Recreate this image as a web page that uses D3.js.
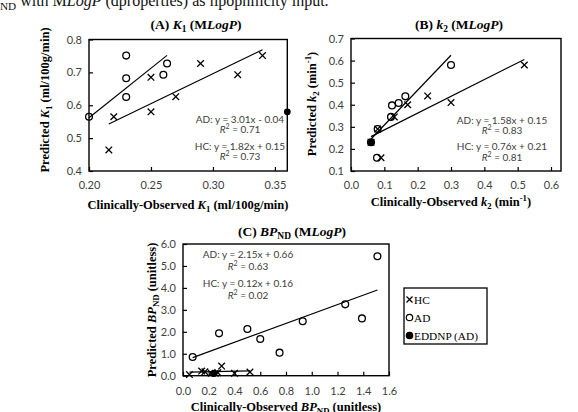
<!DOCTYPE html>
<html lang="en">
<meta charset="utf-8">
<head>
    <script src='https://d3js.org/d3.v7.min.js'></script>
    <style>
        body { margin: 0; background: #fff; }
        svg { display: block; }
    </style>
</head>
<body>
<script>
// ---- data ----
// (A) K1
const k1HcObs  = [0.216, 0.22, 0.25, 0.25, 0.27, 0.29, 0.32, 0.34];
const k1HcPred = [0.464, 0.565, 0.685, 0.58, 0.626, 0.727, 0.693, 0.751];
const k1AdObs  = [0.20, 0.23, 0.23, 0.23, 0.26, 0.263];
const k1AdPred = [0.565, 0.751, 0.682, 0.625, 0.693, 0.727];
const k1EdObs  = [0.36];
const k1EdPred = [0.58];
const k1Fits   = [[3.01, -0.04], [1.82, 0.15]];   // AD, HC
const k1Eqs    = ["AD: y = 3.01x - 0.04", "0.71", "HC: y = 1.82x + 0.15", "0.73"];

// (B) k2
const k2HcObs  = [0.06, 0.08, 0.09, 0.13, 0.17, 0.23, 0.30, 0.52];
const k2HcPred = [0.23, 0.29, 0.16, 0.345, 0.40, 0.44, 0.41, 0.58];
const k2AdObs  = [0.06, 0.08, 0.078, 0.12, 0.123, 0.143, 0.163, 0.30];
const k2AdPred = [0.23, 0.29, 0.16, 0.345, 0.397, 0.408, 0.438, 0.58];
const k2EdObs  = [0.06];
const k2EdPred = [0.23];
const k2Fits   = [[1.58, 0.15], [0.76, 0.21]];
const k2Eqs    = ["AD: y = 1.58x + 0.15", "0.83", "HC: y = 0.76x + 0.21", "0.81"];

// (C) BPND
const bpHcObs  = [0.05, 0.145, 0.17, 0.22, 0.25, 0.27, 0.30, 0.40, 0.52];
const bpHcPred = [0.05, 0.21, 0.18, 0.11, 0.11, 0.14, 0.44, 0.11, 0.17];
const bpAdObs  = [0.075, 0.28, 0.50, 0.60, 0.75, 0.93, 1.26, 1.39, 1.51];
const bpAdPred = [0.85, 1.93, 2.13, 1.67, 1.05, 2.48, 3.25, 2.61, 5.44];
const bpEdObs  = [0.24];
const bpEdPred = [0.10];
const bpFits   = [[2.15, 0.66], [0.12, 0.16]];
const bpEqs    = ["AD: y = 2.15x + 0.66", "0.63", "HC: y = 0.12x + 0.16", "0.02"];

const legendLabels = ["HC", "AD", "EDDNP (AD)"];

// ---- page ----
const svg = d3.select("body").append("svg")
    .attr("width", 578)
    .attr("height", 412);
svg.append("rect").attr("width", 578).attr("height", 412).attr("fill", "#fff");

const serif = "'Liberation Serif', 'Times New Roman', serif";
const sans = "Lato, 'Open Sans', sans-serif";

// write text made of pieces: [text, style] with style "i", "sub", "sup"
function rich(sel, parts, size) {
    let shift = 0;
    parts.forEach(function(p) {
        const t = sel.append("tspan").text(p[0]);
        let target = 0;
        if (p[1] === "i") t.attr("font-style", "italic");
        if (p[1] === "sub") { target = size * 0.25; t.attr("font-size", size * 0.7); }
        if (p[1] === "sup") { target = -size * 0.38; t.attr("font-size", size * 0.7); }
        if (target !== shift) { t.attr("dy", target - shift); shift = target; }
    });
}

// cut-off caption line at the very top
const cap = svg.append("text").attr("x", 0).attr("y", 6)
    .attr("font-family", serif).attr("font-size", 16).attr("fill", "#111");
rich(cap, [["ND", "sub"], [" with M"], ["LogP", "i"], [" (dproperties) as lipophilicity input."]], 16);

function cross(g, x, y, s) {
    g.append("path")
        .attr("d", `M${x - s},${y - s}L${x + s},${y + s}M${x - s},${y + s}L${x + s},${y - s}`)
        .attr("stroke", "#000").attr("stroke-width", 1.3).attr("fill", "none");
}

function drawPanel(p) {
    const g = svg.append("g");
    const x = d3.scaleLinear().domain(p.xDomain).range(p.xRange);
    const y = d3.scaleLinear().domain(p.yDomain).range(p.yRange);

    // axes with inward ticks
    g.append("g")
        .attr("transform", `translate(0,${p.yRange[0]})`)
        .call(d3.axisBottom(x).tickValues(p.xTicks).tickFormat(d3.format(p.xFmt))
            .tickSizeInner(-4).tickSizeOuter(0).tickPadding(p.xPad))
        .call(a => a.select(".domain").remove())
        .call(a => a.selectAll("line").attr("stroke", "#000").attr("stroke-width", 1.2))
        .call(a => a.selectAll("text").attr("font-family", sans).attr("font-size", 11).attr("fill", "#404040"));
    g.append("g")
        .attr("transform", `translate(${p.xRange[0]},0)`)
        .call(d3.axisLeft(y).tickValues(p.yTicks).tickFormat(d3.format(p.yFmt))
            .tickSizeInner(-4).tickSizeOuter(0).tickPadding(p.yPad))
        .call(a => a.select(".domain").remove())
        .call(a => a.selectAll("line").attr("stroke", "#000").attr("stroke-width", 1.2))
        .call(a => a.selectAll("text").attr("font-family", sans).attr("font-size", 11).attr("fill", "#404040"));

    g.append("rect")
        .attr("x", p.xRange[0]).attr("y", p.yRange[1])
        .attr("width", p.xRange[1] - p.xRange[0])
        .attr("height", p.yRange[0] - p.yRange[1])
        .attr("fill", "none").attr("stroke", "#000").attr("stroke-width", 1.4);

    // fitted lines over each group's observed range
    [[p.adObs, p.fits[0]], [p.hcObs, p.fits[1]]].forEach(function(f) {
        const ext = d3.extent(f[0]);
        g.append("path")
            .datum(ext)
            .attr("fill", "none").attr("stroke", "#000").attr("stroke-width", 1.2)
            .attr("d", d3.line().x(d => x(d)).y(d => y(f[1][0] * d + f[1][1])));
    });

    // markers
    p.hcObs.forEach((v, i) => cross(g, x(v), y(p.hcPred[i]), 3.3));
    p.adObs.forEach(function(v, i) {
        g.append("circle").attr("cx", x(v)).attr("cy", y(p.adPred[i])).attr("r", 3.4)
            .attr("fill", "none").attr("stroke", "#000").attr("stroke-width", 1.3);
    });
    p.edObs.forEach(function(v, i) {
        g.append("circle").attr("cx", x(v)).attr("cy", y(p.edPred[i])).attr("r", 3.4)
            .attr("fill", "#000");
    });

    // equations
    const eq = g.append("g").attr("font-family", sans).attr("font-size", 10)
        .attr("fill", "#404040").attr("text-anchor", "middle");
    p.eqs.forEach(function(s, i) {
        const t = eq.append("text").attr("x", p.eqX).attr("y", p.eqY[i]);
        if (i % 2 === 1) rich(t, [["R", "i"], ["2", "sup"], [" = " + s]], 10);
        else t.text(s);
    });

    // title and axis labels
    const tt = g.append("text").attr("x", p.titlePos[0]).attr("y", p.titlePos[1])
        .attr("text-anchor", "middle").attr("font-family", serif)
        .attr("font-weight", "bold").attr("font-size", 13.5);
    rich(tt, p.title, 13.5);
    const xl = g.append("text").attr("x", p.xLabelPos[0]).attr("y", p.xLabelPos[1])
        .attr("text-anchor", "middle").attr("font-family", serif)
        .attr("font-weight", "bold").attr("font-size", 12.5);
    rich(xl, p.xLabel, 12.5);
    const yl = g.append("text")
        .attr("transform", `translate(${p.yLabelPos[0]},${p.yLabelPos[1]}) rotate(-90)`)
        .attr("text-anchor", "middle").attr("font-family", serif)
        .attr("font-weight", "bold").attr("font-size", 12.5);
    rich(yl, p.yLabel, 12.5);
}

drawPanel({
    xDomain: [0.20, 0.36], xRange: [89, 287.3],
    yDomain: [0.4, 0.8], yRange: [171, 39.5],
    xTicks: [0.20, 0.25, 0.30, 0.35], yTicks: [0.4, 0.5, 0.6, 0.7, 0.8],
    xFmt: ".2f", yFmt: ".1f", xPad: 10, yPad: 7,
    hcObs: k1HcObs, hcPred: k1HcPred, adObs: k1AdObs, adPred: k1AdPred,
    edObs: k1EdObs, edPred: k1EdPred, fits: k1Fits,
    eqs: k1Eqs, eqX: 240, eqY: [123, 133, 149.5, 160],
    title: [["(A) "], ["K", "i"], ["1", "sub"], [" (M"], ["LogP", "i"], [")"]],
    titlePos: [196, 29],
    xLabel: [["Clinically-Observed "], ["K", "i"], ["1", "sub"], [" (ml/100g/min)"]],
    xLabelPos: [188, 209],
    yLabel: [["Predicted "], ["K", "i"], ["1", "sub"], [" (ml/100g/min)"]],
    yLabelPos: [49, 100]
});

drawPanel({
    xDomain: [0, 0.63], xRange: [351, 561],
    yDomain: [0.1, 0.7], yRange: [171, 38.5],
    xTicks: [0, 0.1, 0.2, 0.3, 0.4, 0.5, 0.6], yTicks: [0.1, 0.2, 0.3, 0.4, 0.5, 0.6, 0.7],
    xFmt: ".1f", yFmt: ".1f", xPad: 10, yPad: 7,
    hcObs: k2HcObs, hcPred: k2HcPred, adObs: k2AdObs, adPred: k2AdPred,
    edObs: k2EdObs, edPred: k2EdPred, fits: k2Fits,
    eqs: k2Eqs, eqX: 502, eqY: [123.5, 134, 150, 160.5],
    title: [["(B) "], ["k", "i"], ["2", "sub"], [" (M"], ["LogP", "i"], [")"]],
    titlePos: [459, 29],
    xLabel: [["Clinically-Observed "], ["k", "i"], ["2", "sub"], [" (min"], ["-1", "sup"], [")"]],
    xLabelPos: [451, 206],
    yLabel: [["Predicted "], ["k", "i"], ["2", "sub"], [" (min"], ["-1", "sup"], [")"]],
    yLabelPos: [316, 104]
});

drawPanel({
    xDomain: [0, 1.6], xRange: [183, 389],
    yDomain: [0, 6], yRange: [375.7, 244],
    xTicks: d3.range(0, 1.61, 0.2), yTicks: d3.range(0, 6.1, 1),
    xFmt: ".1f", yFmt: ".1f", xPad: 12, yPad: 7,
    hcObs: bpHcObs, hcPred: bpHcPred, adObs: bpAdObs, adPred: bpAdPred,
    edObs: bpEdObs, edPred: bpEdPred, fits: bpFits,
    eqs: bpEqs, eqX: 248, eqY: [258, 269.5, 287, 299],
    title: [["(C) "], ["BP", "i"], ["ND", "sub"], [" (M"], ["LogP", "i"], [")"]],
    titlePos: [292, 236],
    xLabel: [["Clinically-Observed "], ["BP", "i"], ["ND", "sub"], [" (unitless)"]],
    xLabelPos: [286, 411],
    yLabel: [["Predicted "], ["BP", "i"], ["ND", "sub"], [" (unitless)"]],
    yLabelPos: [156, 310]
});

// legend
const lg = svg.append("g");
lg.append("rect").attr("x", 404).attr("y", 288).attr("width", 83).attr("height", 56)
    .attr("fill", "#fff").attr("stroke", "#000").attr("stroke-width", 1.3);
legendLabels.forEach(function(s, i) {
    const cy = 299.5 + i * 18;
    if (i === 0) cross(lg, 409.5, cy, 3);
    else lg.append("circle").attr("cx", 409.5).attr("cy", cy).attr("r", 3.2)
        .attr("fill", i === 2 ? "#000" : "none").attr("stroke", "#000").attr("stroke-width", 1.2);
    lg.append("text").attr("x", 414).attr("y", cy + 4).text(s)
        .attr("font-family", serif).attr("font-size", 11.3).attr("fill", "#000");
});
</script>
</body>
</html>
